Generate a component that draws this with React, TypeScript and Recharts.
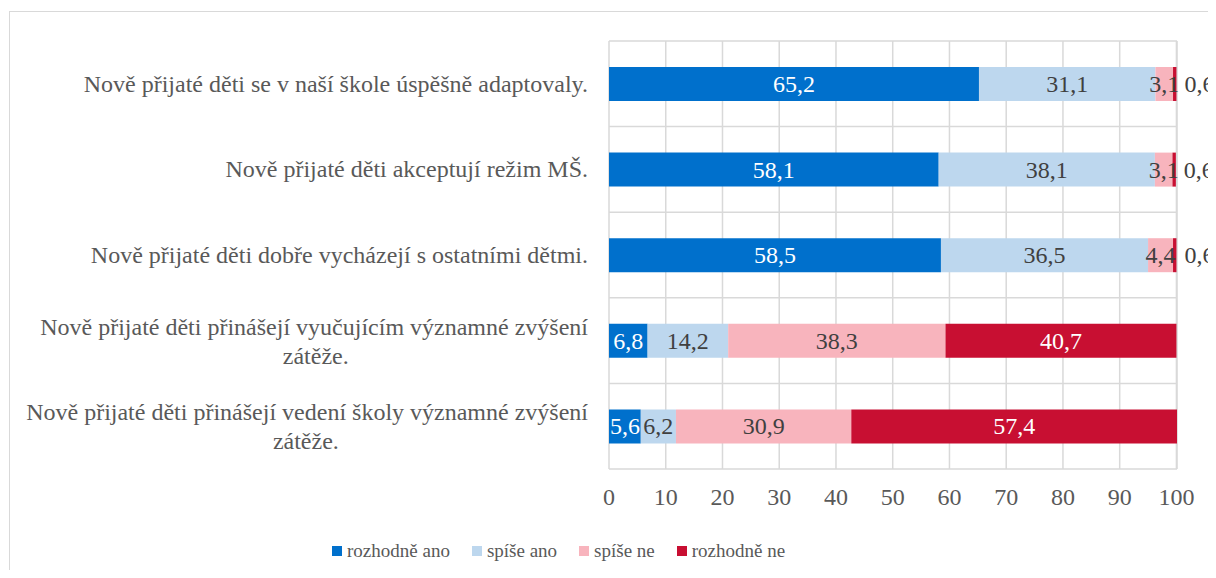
import { BarChart, Bar, XAxis, YAxis, CartesianGrid, LabelList } from 'recharts';

const categories = [
  'Nově přijaté děti se v naší škole úspěšně adaptovaly.',
  'Nově přijaté děti akceptují režim MŠ.',
  'Nově přijaté děti dobře vycházejí s ostatními dětmi.',
  'Nově přijaté děti přinášejí vyučujícím významné zvýšení zátěže.',
  'Nově přijaté děti přinášejí vedení školy významné zvýšení zátěže.',
];

const rozhodneAno = [65.2, 58.1, 58.5, 6.8, 5.6];
const spiseAno = [31.1, 38.1, 36.5, 14.2, 6.2];
const spiseNe = [3.1, 3.1, 4.4, 38.3, 30.9];
const rozhodneNe = [0.6, 0.6, 0.6, 40.7, 57.4];

const xTicks = [0, 10, 20, 30, 40, 50, 60, 70, 80, 90, 100];

const SERIES = [
  { key: 'a', name: 'rozhodně ano', color: '#0070cc', text: '#ffffff' },
  { key: 'b', name: 'spíše ano', color: '#bdd7ee', text: '#404040' },
  { key: 'c', name: 'spíše ne', color: '#f8b4bd', text: '#404040' },
  { key: 'd', name: 'rozhodně ne', color: '#c80f32', text: '#ffffff' },
];

const data = categories.map((name, i) => ({
  name,
  a: rozhodneAno[i],
  b: spiseAno[i],
  c: spiseNe[i],
  d: rozhodneNe[i],
}));

const FONT = 'Liberation Serif';
const TXT = { fontFamily: FONT, fontSize: 24 };
const fmt = (v: number) => v.toFixed(1).replace('.', ',');

// split long category names into two lines (Excel-like wrap)
const wrapLabel = (s: string) => {
  if (s.length < 60) return [s];
  const idx = s.lastIndexOf(' ');
  return [s.slice(0, idx), s.slice(idx + 1)];
};

const CategoryTick = ({ x, y, payload }: any) => {
  const lines = wrapLabel(payload.value);
  const right = x - 13;
  if (lines.length === 1) {
    return (
      <text x={right} y={y} dy={8} textAnchor="end" fill="#595959" style={TXT}>
        {lines[0]}
      </text>
    );
  }
  // approx. width of first line, second line centred below it
  const w = lines[0].length * 9.9;
  const center = right - w / 2;
  return (
    <g>
      <text x={right} y={y} dy={-6} textAnchor="end" fill="#595959" style={TXT}>
        {lines[0]}
      </text>
      <text x={center} y={y} dy={23} textAnchor="middle" fill="#595959" style={TXT}>
        {lines[1]}
      </text>
    </g>
  );
};

const makeLabel = (textColor: string) => (props: any) => {
  const { x, y, width, height, value } = props;
  const small = width < 8;
  return (
    <text
      x={small ? x + width + 8 : x + width / 2}
      y={y + height / 2}
      dy={8}
      textAnchor={small ? 'start' : 'middle'}
      fill={small ? '#404040' : textColor}
      style={TXT}
    >
      {fmt(value)}
    </text>
  );
};

export default function App() {
  return (
    <div style={{ position: 'relative', width: 1208, height: 562, overflow: 'hidden', fontFamily: FONT }}>
      <div
        style={{
          position: 'absolute',
          left: 1,
          top: 3,
          width: 1300,
          height: 700,
          border: '1px solid #d9d9d9',
          boxSizing: 'border-box',
        }}
      />
      <div style={{ position: 'absolute', left: 0, top: 0 }}>
        <BarChart
          width={1208}
          height={562}
          data={data}
          layout="vertical"
          margin={{ top: 33, right: 39, bottom: 61, left: 0 }}
          barSize={34}
        >
          <CartesianGrid
            stroke="#d9d9d9"
            strokeWidth={1.5}
            horizontalCoordinatesGenerator={({ offset }: any) =>
              Array.from({ length: categories.length + 1 }, (_, i) => offset.top + (offset.height * i) / categories.length)
            }
          />
          <XAxis
            type="number"
            domain={[0, 100]}
            ticks={xTicks}
            axisLine={false}
            tickLine={false}
            tick={{ fill: '#595959', fontSize: 24, fontFamily: FONT, style: TXT }}
            tickMargin={13}
            height={40}
          />
          <YAxis
            type="category"
            dataKey="name"
            width={601}
            axisLine={false}
            tickLine={false}
            tick={<CategoryTick />}
          />
          {SERIES.map((s) => (
            <Bar key={s.key} dataKey={s.key} name={s.name} stackId="x" fill={s.color} isAnimationActive={false}>
              <LabelList dataKey={s.key} content={makeLabel(s.text)} />
            </Bar>
          ))}
        </BarChart>
      </div>
      {/* legend */}
      <div
        style={{
          position: 'absolute',
          top: 530,
          left: 324,
          display: 'flex',
          alignItems: 'center',
          fontSize: 19,
          color: '#595959',
          height: 26,
        }}
      >
        {SERIES.map((s) => (
          <div key={s.key} style={{ display: 'flex', alignItems: 'center', marginRight: 22 }}>
            <span style={{ display: 'inline-block', width: 10, height: 10, background: s.color, marginRight: 5 }} />
            <span>{s.name}</span>
          </div>
        ))}
      </div>
    </div>
  );
}
